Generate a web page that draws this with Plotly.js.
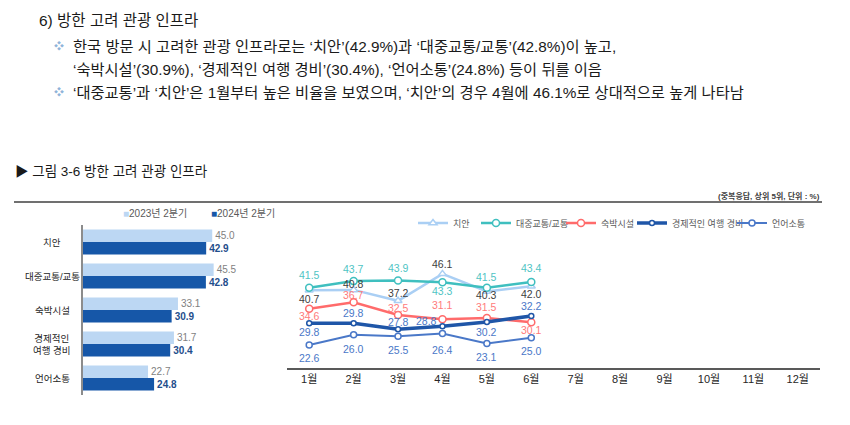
<!DOCTYPE html>
<html><head><meta charset="utf-8">
<script src="https://cdn.plot.ly/plotly-3.0.1.min.js"></script>
<style>html,body{margin:0;padding:0;background:#fff}#chart{width:850px;height:425px}</style>
</head><body><div id="chart"></div>
<script>
// ---- data ----
const barCategories = ['치안', '대중교통/교통', '숙박시설', '경제적인<br>여행 경비', '언어소통'];
const barSeriesNames = ['2023년 2분기', '2024년 2분기'];
const bar2023 = [45.0, 45.5, 33.1, 31.7, 22.7];
const bar2024 = [42.9, 42.8, 30.9, 30.4, 24.8];

const months = ['1월','2월','3월','4월','5월','6월','7월','8월','9월','10월','11월','12월'];
const lineNames = ['치안', '대중교통/교통', '숙박시설', '경제적인 여행 경비', '언어소통'];
const safety     = [40.7, 40.8, 37.2, 46.1, 40.3, 42.0];
const transport  = [41.5, 43.7, 43.9, 43.3, 41.5, 43.4];
const lodging    = [34.6, 36.7, 32.5, 31.1, 31.5, 30.1];
const travelCost = [29.8, 29.8, 27.8, 28.8, 30.2, 32.2];
const language   = [22.6, 26.0, 25.5, 26.4, 23.1, 25.0];

// ---- helpers ----
const W = 850, H = 425;
const px = x => x / W;
const py = y => 1 - y / H;
const FONT = "'Liberation Sans', 'Noto Sans CJK KR', sans-serif";

// ---- bar traces ----
const barColors = ['#BCD7F3', '#1657A8'];
const barTraces = [bar2023, bar2024].map((vals, i) => ({
  type: 'bar', orientation: 'h', name: barSeriesNames[i],
  x: vals, y: barCategories, xaxis: 'x', yaxis: 'y',
  marker: {color: barColors[i]},
  text: vals.map(v => v.toFixed(1)),
  texttemplate: i === 1 ? '<b>%{text}</b>' : '%{text}',
  textposition: 'outside', cliponaxis: false, constraintext: 'none',
  textfont: {size: 10, color: i === 1 ? '#1F4E8C' : '#7F7F7F', family: FONT},
  showlegend: false, hoverinfo: 'skip'
}));

// ---- line traces ----
const lineSeries = [safety, transport, lodging, travelCost, language];
const lineStyles = [
  {color: '#AACFF4', width: 2.5, symbol: 'triangle-up', size: 7, text: '#404040',
   dy: [-9, 6, 8, 10, -4, -8], dx: [0, 0, 0, 0, 0, 0]},
  {color: '#3FBFBF', width: 2.5, symbol: 'circle', size: 7, text: '#4FC4C4',
   dy: [13, 12, 13, -9, 11, 14], dx: [0, 0, 0, 0, 0, 0]},
  {color: '#FF6B6B', width: 2.5, symbol: 'circle', size: 7, text: '#FF7B7B',
   dy: [-7, 7, 7, 14, 11, -8], dx: [0, 0, 0, 0, 0, 0]},
  {color: '#1F56A8', width: 3.5, symbol: 'circle', size: 5, text: '#4A78C8',
   dy: [-9, 10, 7, 5, -10, 10], dx: [0, 0, 0, -16, 0, 0]},
  {color: '#4A78C8', width: 2, symbol: 'circle', size: 6, text: '#4A78C8',
   dy: [-13, -14, -14, -17, -14, -13], dx: [0, 0, 0, 0, 0, 0]}
];
const legendIds = ['legend', 'legend2', 'legend3', 'legend4', 'legend5'];
const legendTextX = [453, 516, 601, 672, 772];

const lineTraces = lineSeries.map((vals, i) => {
  const s = lineStyles[i];
  return {
    type: 'scatter', mode: 'lines+markers', name: lineNames[i],
    x: months.slice(0, vals.length), y: vals, xaxis: 'x2', yaxis: 'y2',
    line: {color: s.color, width: s.width},
    marker: {symbol: s.symbol, size: s.size, color: '#FFFFFF', line: {color: s.color, width: 1.5}},
    cliponaxis: false, legend: legendIds[i], hoverinfo: 'skip'
  };
});

// ---- annotations ----
const ann = [];
const hdr = (x, y, text, size, color, extra) => ann.push(Object.assign({
  xref: 'paper', yref: 'paper', x: px(x), y: py(y), xanchor: 'left', yanchor: 'middle',
  text: text, showarrow: false, font: {size: size, color: color, family: FONT}
}, extra || {}));

hdr(37, 20, '6) 방한 고려 관광 인프라', 15.5, '#1A1A1A');
const bullet = "<span style='color:#8FB4D9;font-size:10px'>❖</span>";
hdr(52, 46, bullet, 12, '#8FB4D9');
hdr(71, 46, '한국 방문 시 고려한 관광 인프라로는 ‘치안’(42.9%)과 ‘대중교통/교통’(42.8%)이 높고,', 15.3, '#1A1A1A');
hdr(71, 70, '‘숙박시설’(30.9%), ‘경제적인 여행 경비’(30.4%), ‘언어소통’(24.8%) 등이 뒤를 이음', 15.3, '#1A1A1A');
hdr(52, 93, bullet, 12, '#8FB4D9');
hdr(71, 93, '‘대중교통’과 ‘치안’은 1월부터 높은 비율을 보였으며, ‘치안’의 경우 4월에 46.1%로 상대적으로 높게 나타남', 15.3, '#1A1A1A');
hdr(13, 171, '▶ 그림 3-6 방한 고려 관광 인프라', 13.5, '#1A1A1A');
ann.push({xref: 'paper', yref: 'paper', x: px(822), y: py(196), xanchor: 'right', yanchor: 'middle',
  text: '<b>(중복응답, 상위 5위, 단위 : %)</b>', showarrow: false, font: {size: 8, color: '#404040', family: FONT}});

// bar legend (annotation swatches)
const barLegendX = [121, 209];
barSeriesNames.forEach((n, i) => hdr(barLegendX[i], 213.5,
  `<span style='color:${barColors[i]}'>■</span>${n}`, 10, '#595959'));

// bar category labels (centered)
barCategories.forEach((c, i) => ann.push({
  xref: 'paper', yref: 'y', x: px(52), y: i, xanchor: 'center', yanchor: 'middle',
  text: c, showarrow: false, align: 'center', font: {size: 9.5, color: '#262626', family: FONT}
}));

// line data labels (built from the series arrays)
lineSeries.forEach((vals, i) => {
  const s = lineStyles[i];
  vals.forEach((v, j) => ann.push({
    xref: 'x2', yref: 'y2', x: j, y: v, xanchor: 'center', yanchor: 'middle',
    xshift: s.dx[j], yshift: s.dy[j], text: v.toFixed(1), showarrow: false,
    font: {size: 10.5, color: s.text, family: FONT}
  }));
});

// ---- legends per line trace ----
const layoutLegends = {};
legendIds.forEach((id, i) => {
  layoutLegends[id] = {
    x: px(legendTextX[i] - 40), y: py(223), xanchor: 'left', yanchor: 'middle',
    orientation: 'h', bgcolor: 'rgba(0,0,0,0)', borderwidth: 0,
    font: {size: 9, color: '#595959', family: FONT}
  };
});

const layout = Object.assign({
  width: W, height: H, margin: {l: 0, r: 0, t: 0, b: 0},
  paper_bgcolor: '#FFFFFF', plot_bgcolor: 'rgba(0,0,0,0)',
  font: {family: FONT},
  barmode: 'group', bargap: 0.27, bargroupgap: 0,
  xaxis: {domain: [px(82.7), px(241)], range: [0, 55], visible: false, fixedrange: true},
  yaxis: {domain: [py(395), py(225)], type: 'category', categoryarray: barCategories,
    range: [4.5, -0.5], showticklabels: false, ticks: '', showgrid: false, zeroline: false,
    showline: true, linecolor: '#8C8C8C', linewidth: 1.5, anchor: 'x'},
  xaxis2: {domain: [px(287), px(820)], type: 'category', categoryarray: months,
    categoryorder: 'array', range: [-0.5, 11.5], showgrid: false, zeroline: false,
    showline: true, linecolor: '#595959', linewidth: 1.5, ticks: '', anchor: 'y2',
    tickfont: {size: 11, color: '#262626', family: FONT}},
  yaxis2: {domain: [py(368), py(256)], range: [15, 52], visible: false, anchor: 'x2'},
  annotations: ann,
  shapes: [{type: 'line', xref: 'paper', yref: 'paper', x0: px(14), x1: px(822),
    y0: py(202), y1: py(202), line: {color: '#404040', width: 1.5}}]
}, layoutLegends);

Plotly.newPlot('chart', barTraces.concat(lineTraces), layout, {staticPlot: true, displayModeBar: false});
</script>
</body></html>
